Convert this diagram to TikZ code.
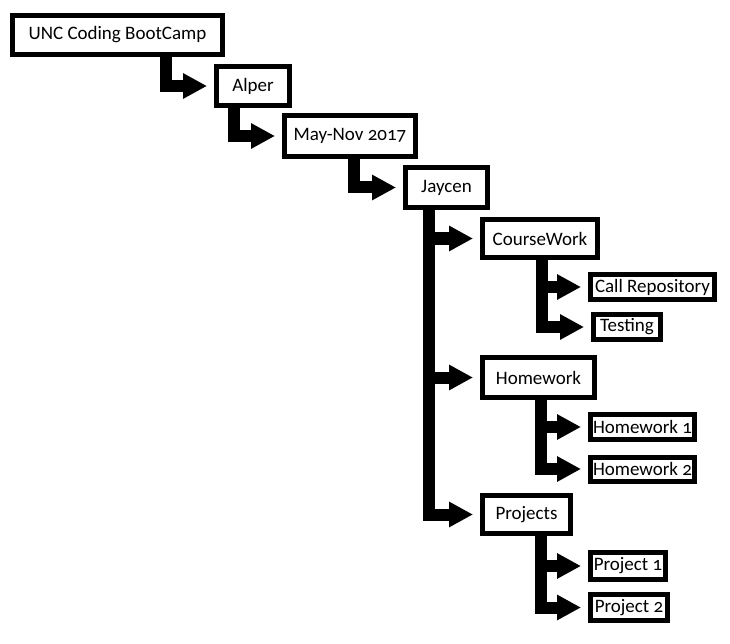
\documentclass[tikz,border=0pt]{standalone}
\usepackage{fontspec}
\setmainfont{Carlito}[Numbers=OldStyle]
\usepackage{tikz}
\usetikzlibrary{arrows.meta}

\begin{document}
\begin{tikzpicture}[x=1pt, y=-1pt,
        box/.style={draw, line width=5pt, rectangle, inner sep=0pt, font=\fontsize{19}{21}\selectfont},
        link/.style={line width=12pt, -{Triangle[length=24pt, width=24pt]}, shorten >=7pt}]
        \useasboundingbox (0,0) rectangle (730,644);

        \node[box, minimum width=210pt, minimum height=39pt] (unc) at (117.5,35) {UNC Coding BootCamp};
        \node[box, minimum width=73pt, minimum height=39pt] (alper) at (253,86) {Alper};
        \node[box, minimum width=131pt, minimum height=41pt] (may) at (350,136) {May-Nov 2017};
        \node[box, minimum width=82pt, minimum height=40pt] (jaycen) at (446.5,187.5) {Jaycen};
        \node[box, minimum width=115pt, minimum height=38pt] (course) at (540,238.5) {CourseWork};
        \node[box, minimum width=124pt, minimum height=25pt] (callrepo) at (652.5,287) {Call Repository};
        \node[box, minimum width=67pt, minimum height=25pt] (testing) at (627,327) {Testing};
        \node[box, minimum width=112pt, minimum height=40pt] (homework) at (538.5,377.5) {Homework};
        \node[box, minimum width=104pt, minimum height=25pt] (hw1) at (642.5,427) {Homework 1};
        \node[box, minimum width=104pt, minimum height=24pt] (hw2) at (642.5,469) {Homework 2};
        \node[box, minimum width=88pt, minimum height=38pt] (projects) at (526.5,514.5) {Projects};
        \node[box, minimum width=75pt, minimum height=27pt] (proj1) at (628,566) {Project 1};
        \node[box, minimum width=77pt, minimum height=26pt] (proj2) at (629,607.5) {Project 2};

        \draw[link] ([xshift=156pt]unc.south west) |- (alper.west);
        \draw[link] ([xshift=20pt]alper.south west) |- (may.west);
        \draw[link] ([xshift=72pt]may.south west) |- (jaycen.west);
        \draw[link] ([xshift=26pt]jaycen.south west) |- (course.west);
        \draw[link] ([xshift=26pt]jaycen.south west) |- (homework.west);
        \draw[link] ([xshift=26pt]jaycen.south west) |- (projects.west);
        \draw[link] ([xshift=62pt]course.south west) |- (callrepo.west);
        \draw[link] ([xshift=62pt]course.south west) |- (testing.west);
        \draw[link] ([xshift=61pt]homework.south west) |- (hw1.west);
        \draw[link] ([xshift=61pt]homework.south west) |- (hw2.west);
        \draw[link] ([xshift=61pt]projects.south west) |- (proj1.west);
        \draw[link] ([xshift=61pt]projects.south west) |- (proj2.west);
    \end{tikzpicture}
\end{document}
